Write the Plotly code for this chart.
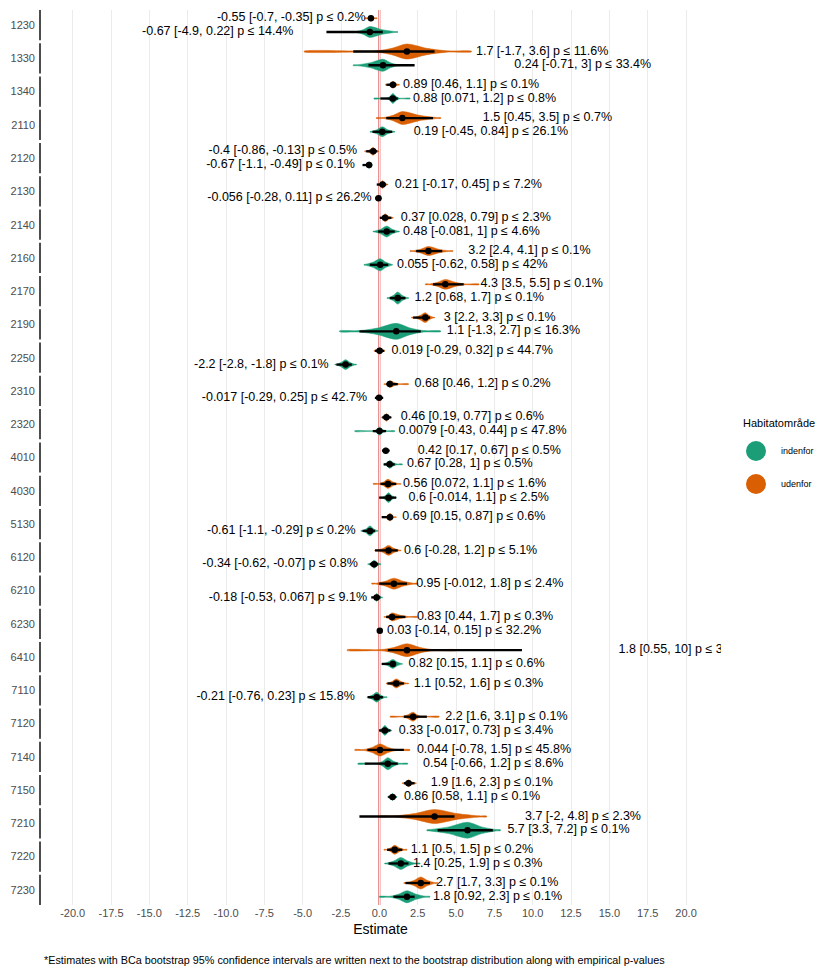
import plotly.graph_objects as go

# ---------------- data ----------------
categories = ["1230", "1330", "1340", "2110", "2120", "2130", "2140", "2160", "2170",
              "2190", "2250", "2310", "2320", "4010", "4030", "5130", "6120", "6210",
              "6230", "6410", "7110", "7120", "7140", "7150", "7210", "7220", "7230"]

# udenfor (outside habitat area) - orange
ud_label = ["-0.55 [-0.7, -0.35] p ≤ 0.2%", "1.7 [-1.7, 3.6] p ≤ 11.6%", "0.89 [0.46, 1.1] p ≤ 0.1%",
            "1.5 [0.45, 3.5] p ≤ 0.7%", "-0.4 [-0.86, -0.13] p ≤ 0.5%", "0.21 [-0.17, 0.45] p ≤ 7.2%",
            "0.37 [0.028, 0.79] p ≤ 2.3%", "3.2 [2.4, 4.1] p ≤ 0.1%", "4.3 [3.5, 5.5] p ≤ 0.1%",
            "3 [2.2, 3.3] p ≤ 0.1%", "0.019 [-0.29, 0.32] p ≤ 44.7%", "0.68 [0.46, 1.2] p ≤ 0.2%",
            "0.46 [0.19, 0.77] p ≤ 0.6%", "0.42 [0.17, 0.67] p ≤ 0.5%", "0.56 [0.072, 1.1] p ≤ 1.6%",
            "0.69 [0.15, 0.87] p ≤ 0.6%", "0.6 [-0.28, 1.2] p ≤ 5.1%", "0.95 [-0.012, 1.8] p ≤ 2.4%",
            "0.83 [0.44, 1.7] p ≤ 0.3%", "1.8 [0.55, 10] p ≤ 3", "1.1 [0.52, 1.6] p ≤ 0.3%",
            "2.2 [1.6, 3.1] p ≤ 0.1%", "0.044 [-0.78, 1.5] p ≤ 45.8%", "1.9 [1.6, 2.3] p ≤ 0.1%",
            "3.7 [-2, 4.8] p ≤ 2.3%", "1.1 [0.5, 1.5] p ≤ 0.2%", "2.7 [1.7, 3.3] p ≤ 0.1%"]
ud_est = [-0.55, 1.8, 0.89, 1.5, -0.4, 0.21, 0.37, 3.2, 4.3, 3.0, 0.019, 0.68, 0.46, 0.42, 0.56,
          0.69, 0.6, 0.95, 0.83, 1.8, 1.1, 2.2, 0.044, 1.9, 3.6, 1.0, 2.7]
ud_int_lo = [-0.7, -1.7, 0.46, 0.45, -0.86, -0.17, 0.028, 2.4, 3.5, 2.2, -0.29, 0.46, 0.19, 0.17,
             0.072, 0.15, -0.28, -0.012, 0.44, 0.55, 0.52, 1.6, -0.78, 1.6, -1.3, 0.5, 1.7]
ud_int_hi = [-0.35, 3.6, 1.1, 3.5, -0.13, 0.45, 0.79, 4.1, 5.5, 3.3, 0.32, 1.2, 0.77, 0.67, 1.1,
             0.87, 1.2, 1.8, 1.7, 9.3, 1.6, 3.1, 1.6, 2.3, 4.9, 1.5, 3.3]
ud_tail_lo = [-0.95, -4.9, 0.4, -0.2, -0.95, -0.1, 0.05, 2.0, 3.0, 2.1, -0.35, 0.3, 0.15, 0.2, -0.4,
              0.3, -0.3, -0.5, 0.3, -2.1, 0.45, 0.7, -1.6, 1.5, 0.0, 0.3, 1.6]
ud_body_lo = [-0.8, -0.2, 0.55, 0.3, -0.8, 0.0, 0.15, 2.2, 3.3, 2.3, -0.3, 0.4, 0.25, 0.25, 0.0,
              0.4, -0.1, -0.2, 0.4, 0.1, 0.55, 1.5, -1.0, 1.6, 1.0, 0.5, 1.8]
ud_body_hi = [-0.3, 4.4, 1.2, 3.7, -0.15, 0.45, 0.8, 4.5, 5.6, 3.5, 0.3, 1.3, 0.7, 0.6, 1.2,
              1.0, 1.3, 2.2, 1.9, 3.5, 1.75, 2.7, 1.1, 2.3, 6.5, 1.6, 3.6]
ud_tail_hi = [-0.15, 6.0, 1.3, 4.0, -0.05, 0.55, 0.9, 4.8, 6.5, 3.6, 0.35, 1.9, 0.8, 0.65, 1.4,
              1.1, 1.4, 2.5, 2.5, 5.0, 1.9, 3.9, 2.0, 2.4, 7.0, 1.8, 3.8]
ud_peak = [0.22, 0.55, 0.25, 0.47, 0.29, 0.29, 0.29, 0.33, 0.36, 0.36, 0.25, 0.25, 0.29, 0.22,
           0.33, 0.29, 0.36, 0.4, 0.29, 0.47, 0.33, 0.33, 0.44, 0.25, 0.51, 0.33, 0.44]
ud_label_x = [-0.9, 6.3, 1.55, 6.75, -1.45, 1.0, 1.4, 5.8, 6.6, 4.2, 0.8, 2.3, 1.4, 2.5, 1.55,
              1.5, 1.6, 2.4, 2.45, 15.6, 2.25, 4.3, 2.45, 3.35, 9.5, 2.05, 3.7]

# indenfor (inside habitat area) - green
in_label = ["-0.67 [-4.9, 0.22] p ≤ 14.4%", "0.24 [-0.71, 3] p ≤ 33.4%", "0.88 [0.071, 1.2] p ≤ 0.8%",
            "0.19 [-0.45, 0.84] p ≤ 26.1%", "-0.67 [-1.1, -0.49] p ≤ 0.1%", "-0.056 [-0.28, 0.11] p ≤ 26.2%",
            "0.48 [-0.081, 1] p ≤ 4.6%", "0.055 [-0.62, 0.58] p ≤ 42%", "1.2 [0.68, 1.7] p ≤ 0.1%",
            "1.1 [-1.3, 2.7] p ≤ 16.3%", "-2.2 [-2.8, -1.8] p ≤ 0.1%", "-0.017 [-0.29, 0.25] p ≤ 42.7%",
            "0.0079 [-0.43, 0.44] p ≤ 47.8%", "0.67 [0.28, 1] p ≤ 0.5%", "0.6 [-0.014, 1.1] p ≤ 2.5%",
            "-0.61 [-1.1, -0.29] p ≤ 0.2%", "-0.34 [-0.62, -0.07] p ≤ 0.8%", "-0.18 [-0.53, 0.067] p ≤ 9.1%",
            "0.03 [-0.14, 0.15] p ≤ 32.2%", "0.82 [0.15, 1.1] p ≤ 0.6%", "-0.21 [-0.76, 0.23] p ≤ 15.8%",
            "0.33 [-0.017, 0.73] p ≤ 3.4%", "0.54 [-0.66, 1.2] p ≤ 8.6%", "0.86 [0.58, 1.1] p ≤ 0.1%",
            "5.7 [3.3, 7.2] p ≤ 0.1%", "1.4 [0.25, 1.9] p ≤ 0.3%", "1.8 [0.92, 2.3] p ≤ 0.1%"]
in_est = [-0.62, 0.24, 0.88, 0.19, -0.67, -0.056, 0.48, 0.055, 1.2, 1.1, -2.2, -0.017, 0.0079, 0.67,
          0.6, -0.61, -0.34, -0.18, 0.03, 0.88, -0.17, 0.36, 0.55, 0.86, 5.75, 1.4, 1.8]
in_int_lo = [-3.45, -0.71, 0.071, -0.45, -1.1, -0.28, -0.081, -0.62, 0.68, -1.3, -2.8, -0.29, -0.43,
             0.28, -0.014, -1.1, -0.62, -0.53, -0.14, 0.15, -0.76, -0.017, -0.95, 0.58, 3.8, 0.6, 0.92]
in_int_hi = [0.22, 2.3, 1.2, 0.84, -0.49, 0.11, 1.0, 0.58, 1.7, 2.7, -1.8, 0.25, 0.44, 1.0, 1.1,
             -0.29, -0.07, 0.067, 0.15, 1.1, 0.23, 0.73, 1.2, 1.1, 7.4, 1.9, 2.3]
in_tail_lo = [-1.8, -1.7, -0.35, -0.6, -0.95, -0.2, -0.4, -1.0, 0.5, -2.6, -2.9, -0.2, -1.6, 0.3,
              0.1, -1.2, -0.75, -0.4, -0.1, 0.2, -0.8, 0.0, -1.4, 0.55, 3.1, 0.35, 0.0]
in_body_lo = [-1.5, -1.4, 0.5, -0.5, -0.9, -0.15, -0.3, -0.9, 0.6, -1.3, -2.8, -0.15, -0.35, 0.35,
              0.2, -1.1, -0.7, -0.35, -0.08, 0.25, -0.75, 0.0, -0.1, 0.6, 3.3, 0.5, 0.7]
in_body_hi = [1.0, 1.2, 1.3, 0.9, -0.5, 0.1, 1.2, 0.8, 1.8, 2.9, -1.6, 0.15, 0.4, 1.15, 1.0,
              -0.15, 0.05, 0.15, 0.12, 1.45, 0.35, 0.73, 1.3, 1.1, 7.6, 2.3, 3.0]
in_tail_hi = [1.2, 1.4, 2.0, 1.0, -0.45, 0.15, 1.3, 0.85, 1.9, 4.0, -1.5, 0.2, 1.0, 1.5, 1.1,
              -0.1, 0.1, 0.2, 0.15, 1.5, 0.5, 0.8, 1.85, 1.15, 7.9, 2.65, 3.3]
in_peak = [0.4, 0.44, 0.36, 0.36, 0.25, 0.15, 0.4, 0.44, 0.44, 0.58, 0.36, 0.18, 0.29, 0.29, 0.36,
           0.36, 0.29, 0.29, 0.15, 0.33, 0.36, 0.36, 0.44, 0.25, 0.58, 0.44, 0.44]
in_label_x = [-5.6, 8.8, 2.2, 2.25, -1.6, -0.5, 1.55, 1.15, 2.3, 4.4, -3.3, -0.8, 1.25, 1.8, 1.9,
              -1.55, -1.4, -0.8, 0.5, 1.9, -1.6, 1.27, 2.85, 1.6, 8.35, 2.2, 3.5]

x_ticks = [-20.0, -17.5, -15.0, -12.5, -10.0, -7.5, -5.0, -2.5, 0.0, 2.5, 5.0, 7.5, 10.0,
           12.5, 15.0, 17.5, 20.0]
x_tick_text = ["-20.0", "-17.5", "-15.0", "-12.5", "-10.0", "-7.5", "-5.0", "-2.5", "0.0", "2.5",
               "5.0", "7.5", "10.0", "12.5", "15.0", "17.5", "20.0"]

legend_title = "Habitatområde"
legend_names = ["indenfor", "udenfor"]
x_title = "Estimate"
caption = ("*Estimates with BCa bootstrap 95% confidence intervals are written next to the "
           "bootstrap distribution along with empirical p-values")

# ---------------- styling / layout ----------------
GREEN = "#1B9E77"
ORANGE = "#D95F02"
FONT = "Liberation Sans, Arial, sans-serif"
OFF = 8                      # page body margin of the html page
W, H = 823 - OFF, 972 - OFF
PLOT_L, PLOT_R, PLOT_T, PLOT_B = 40, 721, 10, 905   # target page pixels of the plot area
ML, MR, MT, MB = PLOT_L - OFF, W - (PLOT_R - OFF), PLOT_T - OFF, H - (PLOT_B - OFF)
PITCH = 2.42          # panel pitch in y units (panel height 2.2 + gap)
N = len(categories)


def base(k):
    return (N - 1 - k) * PITCH


def violin_polys(y_off, tl, bl, est, bh, th, peak):
    xs, ys = [], []
    for k in range(N):
        yc = base(k) + y_off
        px = [tl[k], bl[k], (bl[k] + est[k]) / 2, est[k], (est[k] + bh[k]) / 2, bh[k], th[k]]
        mult = [0.0, 0.09, 0.42, 1.0, 0.42, 0.09, 0.0]
        hw = [max(0.03, m * peak[k]) for m in mult]
        top_x = px
        top_y = [yc + h for h in hw]
        bot_x = px[::-1]
        bot_y = [yc - h for h in hw[::-1]]
        xs += top_x + bot_x + [px[0], None]
        ys += top_y + bot_y + [top_y[0], None]
    return xs, ys


fig = go.Figure()

for y_off, color, tl, bl, est, bh, th, peak in [
        (2, ORANGE, ud_tail_lo, ud_body_lo, ud_est, ud_body_hi, ud_tail_hi, ud_peak),
        (1, GREEN, in_tail_lo, in_body_lo, in_est, in_body_hi, in_tail_hi, in_peak)]:
    vx, vy = violin_polys(y_off, tl, bl, est, bh, th, peak)
    fig.add_trace(go.Scatter(x=vx, y=vy, mode="lines", fill="toself", fillcolor=color,
                             line=dict(color=color, width=0.5, shape="spline", smoothing=0.8),
                             hoverinfo="skip", showlegend=False))

# interval lines
lx, ly = [], []
for y_off, lo, hi in [(2, ud_int_lo, ud_int_hi), (1, in_int_lo, in_int_hi)]:
    for k in range(N):
        yc = base(k) + y_off
        lx += [lo[k], hi[k], None]
        ly += [yc, yc, None]
fig.add_trace(go.Scatter(x=lx, y=ly, mode="lines", line=dict(color="black", width=2.3),
                         hoverinfo="skip", showlegend=False))

# point estimates
px_, py_ = [], []
for y_off, est in [(2, ud_est), (1, in_est)]:
    for k in range(N):
        px_.append(est[k])
        py_.append(base(k) + y_off)
fig.add_trace(go.Scatter(x=px_, y=py_, mode="markers", marker=dict(color="black", size=6.5),
                         hoverinfo="skip", showlegend=False))

# labels
for side in ("left", "right"):
    tx, ty, tt = [], [], []
    for y_off, labs, lxs, est in [(2, ud_label, ud_label_x, ud_est), (1, in_label, in_label_x, in_est)]:
        for k in range(N):
            is_left = lxs[k] < est[k]
            if (side == "left") == is_left:
                tx.append(lxs[k])
                ty.append(base(k) + y_off)
                tt.append(labs[k])
    fig.add_trace(go.Scatter(x=tx, y=ty, text=tt, mode="text",
                             textposition="middle left" if side == "left" else "middle right",
                             textfont=dict(family=FONT, size=12.5, color="black"),
                             cliponaxis=True, hoverinfo="skip", showlegend=False))

shapes = []
# white gaps between facet panels (cover gridlines)
for k in range(N - 1):
    b = base(k)
    shapes.append(dict(type="rect", xref="paper", yref="y", x0=0, x1=1, y0=b + 0.18, y1=b + 0.4,
                       fillcolor="white", line=dict(width=0), layer="between"))
# zero reference line
shapes.append(dict(type="line", xref="x", yref="paper", x0=0, x1=0, y0=0, y1=1,
                   line=dict(color="#DC5A58", width=2), layer="between"))
# facet left axis lines
for k in range(N):
    b = base(k)
    shapes.append(dict(type="line", xref="paper", yref="y", x0=0, x1=0, y0=b + 0.4, y1=b + 2.6,
                       line=dict(color="#4D4D4D", width=2)))

# manual legend (positions given in page pixels)
pw, ph = W - ML - MR, H - MT - MB


def pxx(x):
    return (x - PLOT_L) / pw


def pxy(y):
    return (PLOT_B - y) / ph


annotations = [
    dict(text=legend_title, x=pxx(741), y=pxy(423), xref="paper", yref="paper", xanchor="left",
         yanchor="middle", showarrow=False, font=dict(family=FONT, size=11, color="black")),
]
for i, (name, col) in enumerate(zip(legend_names, [GREEN, ORANGE])):
    cy = 451 + 33 * i
    shapes.append(dict(type="circle", xref="paper", yref="paper", xsizemode="pixel",
                       ysizemode="pixel", xanchor=pxx(756), yanchor=pxy(cy), x0=-10, x1=10,
                       y0=-10, y1=10, fillcolor=col, line=dict(width=0)))
    annotations.append(dict(text=name, x=pxx(779), y=pxy(cy), xref="paper", yref="paper",
                            xanchor="left", yanchor="middle", showarrow=False,
                            font=dict(family=FONT, size=9, color="black")))
annotations.append(dict(text=caption, x=pxx(42), y=pxy(960), xref="paper", yref="paper",
                        xanchor="left", yanchor="middle", showarrow=False,
                        font=dict(family=FONT, size=10.8, color="black")))

fig.update_layout(
    width=W, height=H,
    margin=dict(l=ML, r=MR, t=MT, b=MB, autoexpand=False),
    plot_bgcolor="white", paper_bgcolor="white",
    showlegend=False,
    shapes=shapes, annotations=annotations,
    xaxis=dict(range=[-22.13, 22.28], tickvals=x_ticks, ticktext=x_tick_text, automargin=False,
               showgrid=True, gridcolor="#EBEBEB", gridwidth=1, zeroline=False,
               showline=False, ticks="", tickfont=dict(family=FONT, size=11, color="#4D4D4D"),
               title=dict(text=x_title, font=dict(family=FONT, size=14, color="black"), standoff=6)),
    yaxis=dict(range=[0.4, base(0) + 2.6], tickvals=[base(k) + 1.5 for k in range(N)],
               ticktext=categories, showgrid=False, zeroline=False, showline=False, ticks="",
               automargin=False, ticklabelstandoff=4,
               tickfont=dict(family=FONT, size=11, color="#4D4D4D")),
)

fig.write_html("out.html")
